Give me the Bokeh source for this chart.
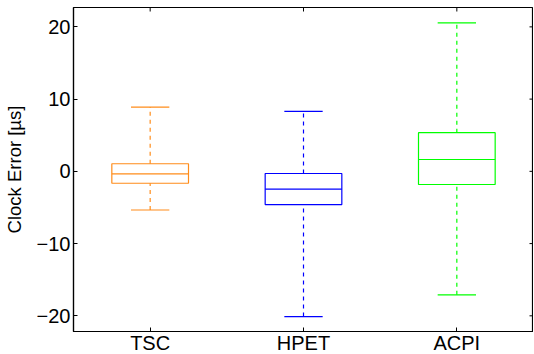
from bokeh.plotting import figure
from bokeh.models import Range1d, FixedTicker, ColumnDataSource
from bokeh.embed import file_html
from bokeh.resources import INLINE
import math

# Data
categories = ["TSC", "HPET", "ACPI"]
positions = [1, 2, 3]
whisker_low = [-5.35, -20.1, -17.1]
q1 = [-1.65, -4.6, -1.82]
median = [-0.34, -2.47, 1.64]
q3 = [1.05, -0.3, 5.35]
whisker_high = [8.9, 8.3, 20.55]
colors = ["#FF8C1A", "#0000FF", "#00FF00"]
y_ticks = [-20, -10, 0, 10, 20]

box_half = 0.25
cap_half = 0.125

src = ColumnDataSource(dict(
    x=positions,
    left=[x - box_half for x in positions],
    right=[x + box_half for x in positions],
    cap_l=[x - cap_half for x in positions],
    cap_r=[x + cap_half for x in positions],
    lo=whisker_low, q1=q1, med=median, q3=q3, hi=whisker_high,
    color=colors,
))

FONT = "Liberation Sans"

x_range = Range1d(0.5, 3.5)
y_range = Range1d(-22.17, 22.68)

p = figure(frame_width=460, frame_height=324, output_backend="svg", toolbar_location=None,
           x_range=x_range, y_range=y_range,
           min_border_left=0, min_border_right=0, min_border_top=7, min_border_bottom=0)
p.xgrid.visible = False
p.ygrid.visible = False
p.outline_line_color = "black"
p.outline_line_width = 1.2
p.background_fill_color = "white"
p.border_fill_color = "white"

# whiskers (dashed)
p.segment(x0="x", y0="q3", x1="x", y1="hi", source=src, line_color="color",
          line_width=1.2, line_dash="4 4")
p.segment(x0="x", y0="lo", x1="x", y1="q1", source=src, line_color="color",
          line_width=1.2, line_dash="4 4")
# caps
p.segment(x0="cap_l", y0="hi", x1="cap_r", y1="hi", source=src, line_color="color", line_width=1.2)
p.segment(x0="cap_l", y0="lo", x1="cap_r", y1="lo", source=src, line_color="color", line_width=1.2)
# boxes
p.quad(left="left", right="right", bottom="q1", top="q3", source=src,
       fill_color=None, line_color="color", line_width=1.2)
# medians
p.segment(x0="left", y0="med", x1="right", y1="med", source=src, line_color="color", line_width=1.2)

# mirrored inward ticks on top and right frame edges (clipped to frame)
p.scatter(x=positions, y=[y_range.end] * len(positions), marker="dash", size=8,
          angle=math.pi / 2, line_color="black", line_width=1)
p.scatter(x=[x_range.end] * len(y_ticks), y=y_ticks, marker="dash", size=8,
          line_color="black", line_width=1)

def style_axis(ax):
    ax.major_tick_in = 4
    ax.major_tick_out = 0
    ax.minor_tick_line_color = None
    ax.axis_line_color = "black"
    ax.axis_line_width = 1.2
    ax.major_tick_line_color = "black"
    ax.major_tick_line_width = 1
    ax.major_label_text_font = FONT
    ax.major_label_text_font_size = "20px"
    ax.major_label_text_color = "black"
    ax.major_label_standoff = 3

p.xaxis.ticker = FixedTicker(ticks=positions)
p.xaxis.major_label_overrides = {pos: c for pos, c in zip(positions, categories)}
style_axis(p.xaxis[0])
p.xaxis.major_label_standoff = 0
p.yaxis.ticker = FixedTicker(ticks=y_ticks)
p.yaxis.major_label_overrides = {t: ("\u2212" + str(abs(t)) if t < 0 else str(t)) for t in y_ticks}
style_axis(p.yaxis[0])
p.yaxis.axis_label = "Clock Error [\u00b5s]"
p.yaxis.axis_label_text_font = FONT
p.yaxis.axis_label_text_font_size = "18.5px"
p.yaxis.axis_label_text_font_style = "normal"
p.yaxis.axis_label_text_color = "black"
p.yaxis.axis_label_standoff = 9

open("out.html", "w").write(file_html(p, INLINE))
